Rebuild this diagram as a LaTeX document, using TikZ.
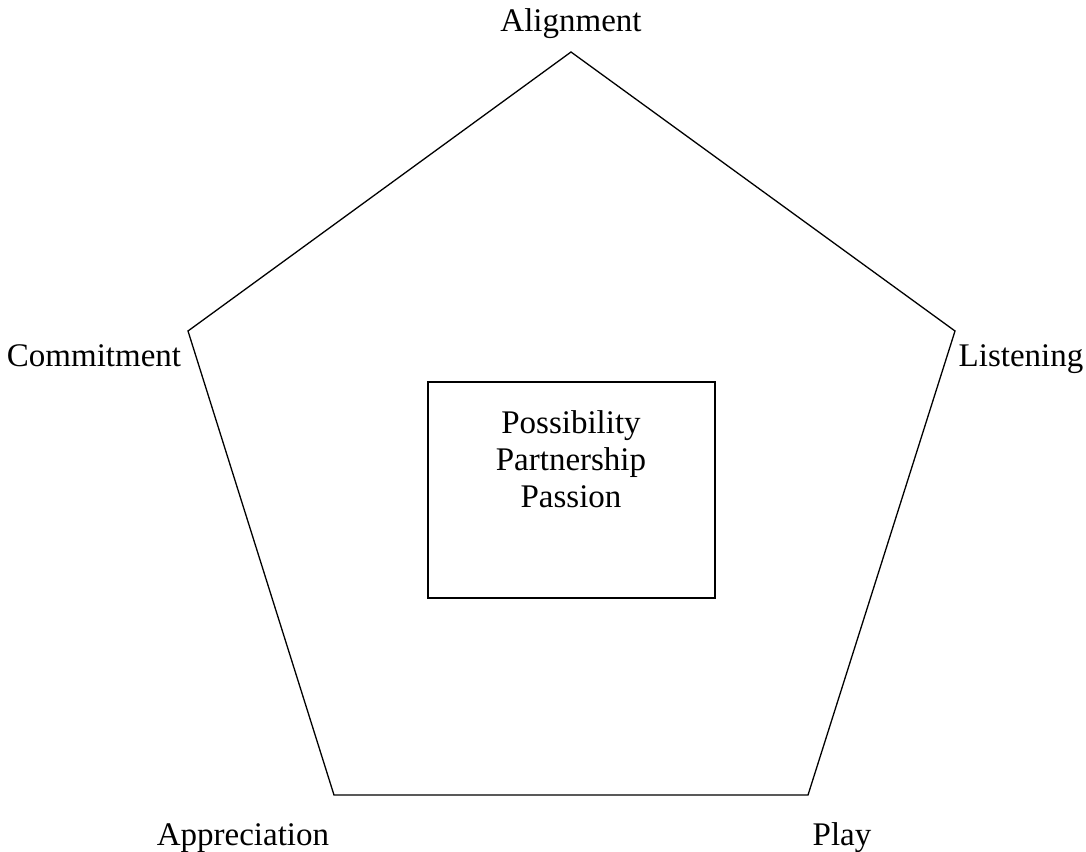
\documentclass[tikz,border=0pt]{standalone}
\usepackage{fontspec}
\setmainfont{Liberation Serif}
\begin{document}
\begin{tikzpicture}[x=1pt,y=-1pt,
  lbl/.style={font=\fontsize{33}{37}\selectfont, inner sep=0pt, align=center, anchor=base},
  edge/.style={draw=black, line width=1.3pt, line join=miter}]
\useasboundingbox (0,0) rectangle (1086,851);
\coordinate (A) at (571,52);
\coordinate (L) at (955,331);
\coordinate (P) at (808,795);
\coordinate (Ap) at (334,795);
\coordinate (C) at (188,331);
\draw[edge] (A) -- (L) -- (P) -- (Ap) -- (C) -- cycle;
\node[edge, minimum width=287pt, minimum height=216pt, inner sep=0pt] (box) at (571.5,490) {};
\node[lbl] (l1) at (571,433) {Possibility};
\node[lbl] (l2) at (571,470) {Partnership};
\node[lbl] (l3) at (571,507) {Passion};
\node[lbl] (tA) at (571,32) {Alignment};
\node[lbl] (tC) at (94,366) {Commitment};
\node[lbl] (tL) at (1021,366) {Listening};
\node[lbl] (tAp) at (243,845) {Appreciation};
\node[lbl] (tP) at (842,845) {Play};
\end{tikzpicture}
\end{document}
